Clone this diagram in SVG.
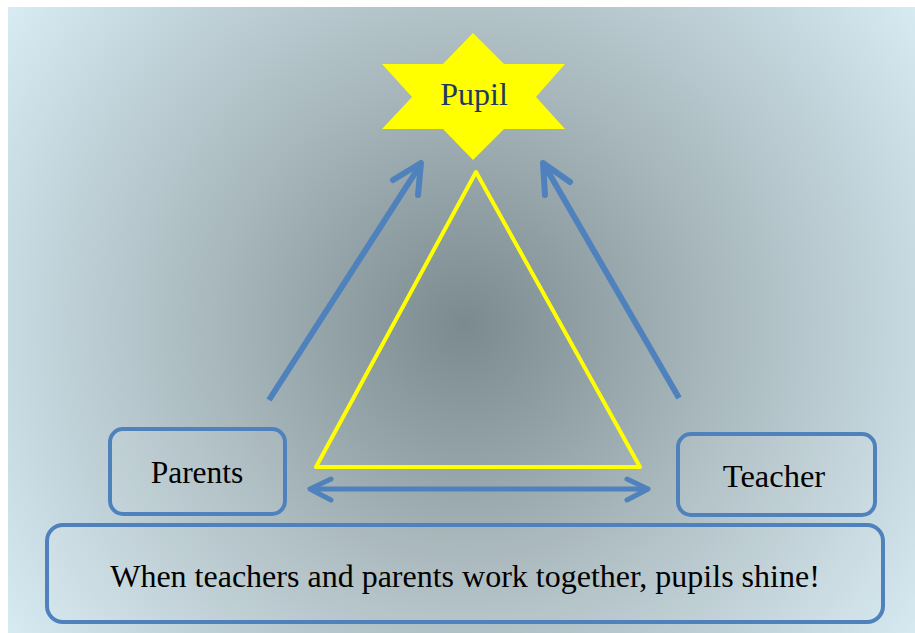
<svg xmlns="http://www.w3.org/2000/svg" width="915" height="633" viewBox="0 0 915 633">
<defs>
<radialGradient id="bg" gradientUnits="userSpaceOnUse" cx="465" cy="325" r="560">
<stop offset="0" stop-color="#7b8a8f"/>
<stop offset="0.45" stop-color="#a8b8bd"/>
<stop offset="1" stop-color="#d8ecf4"/>
</radialGradient>
<style>
.box{fill:#ffffff;fill-opacity:0.08;stroke:#4f81bd;stroke-width:4}
.lbl{font-family:"Liberation Serif","Times New Roman",serif;fill:#000;text-anchor:middle}
.arr{fill:none;stroke:#4f81bd;stroke-width:6;stroke-linecap:round;stroke-linejoin:round}
.arrline{fill:none;stroke:#4f81bd;stroke-width:6;stroke-linecap:butt}
</style>
</defs>
<rect x="8" y="7" width="907" height="626" fill="url(#bg)"/>
<g id="triangle">
<polygon points="476,172 316,467 640,467" fill="none" stroke="#ffff00" stroke-width="4" stroke-linejoin="round"/>
</g>
<g id="pupil">
<polygon points="473,33 504,64 565,64 536,97 565,129 504,129 473,160 443,129 382,129 412,97 382,64 443,64" fill="#ffff00"/>
<text x="474" y="105" class="lbl" font-size="32" style="fill:#1f3a60">Pupil</text>
</g>
<g id="parents">
<rect x="110" y="429" width="175" height="85" rx="13" class="box"/>
<text x="197" y="483" class="lbl" font-size="31.5">Parents</text>
</g>
<g id="teacher">
<rect x="678" y="434" width="197" height="81" rx="13" class="box"/>
<text x="774" y="487" class="lbl" font-size="32.5">Teacher</text>
</g>
<g id="caption">
<rect x="47" y="525" width="836" height="97" rx="16" class="box"/>
<text x="465" y="587" class="lbl" font-size="32">When teachers and parents work together, pupils shine!</text>
</g>
<g id="connectors">
<line x1="269" y1="400" x2="419" y2="167" class="arrline"/>
<polyline points="393,180 421,163 418,195" class="arr"/>
<line x1="679" y1="398" x2="546" y2="168" class="arrline"/>
<polyline points="545,195 543,163 570,182" class="arr"/>
<line x1="312" y1="489" x2="646" y2="489" class="arrline" style="stroke-width:5"/>
<polyline points="331,479 310,489 331,500" class="arr" style="stroke-width:5"/>
<polyline points="627,479 648,489 627,500" class="arr" style="stroke-width:5"/>
</g>
</svg>
